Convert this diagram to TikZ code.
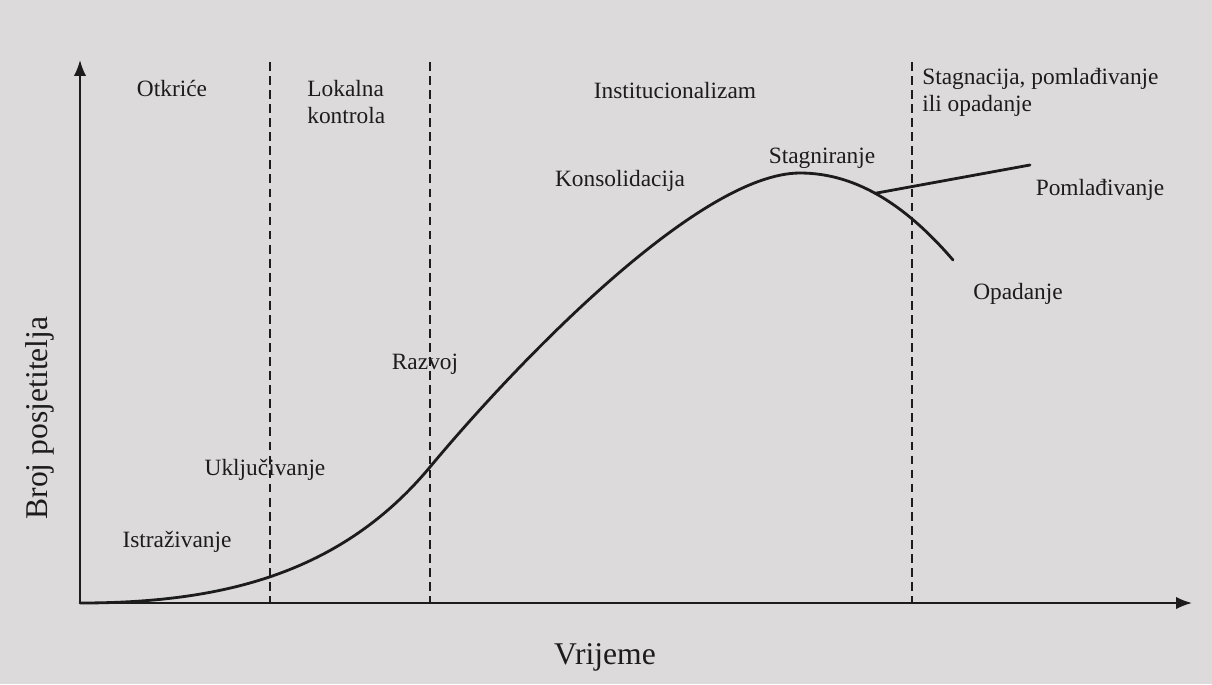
\documentclass[tikz,border=0pt]{standalone}
\usepackage{fontspec}
\setmainfont{Liberation Serif}
\usetikzlibrary{arrows.meta}
\definecolor{paper}{RGB}{221,218,219}
\definecolor{ink}{RGB}{28,28,28}
\begin{document}
\begin{tikzpicture}[x=0.02cm, y=-0.02cm,
                every node/.style = {text=ink, inner sep=1pt},
                phase/.style = {font=\fontsize{13.3}{15.6}\selectfont, align=left},
                stage/.style = {font=\fontsize{13.3}{15.6}\selectfont},
                axislabel/.style = {font=\fontsize{18}{21}\selectfont},
                axisline/.style = {draw=ink, line width=1.1pt, -{Latex[length=9pt, width=7pt]}},
                divider/.style = {draw=ink, line width=1pt, dash pattern=on 5pt off 3pt},
                lifecurve/.style = {draw=ink, line width=1.6pt, line cap=round}
    ]
    \path[fill=paper] (0,0) rectangle (1212,684);
    % axes
    \coordinate (origin) at (80,603);
    \coordinate (ytip) at (80,60);
    \coordinate (xtip) at (1192,603);
    \draw[axisline] (origin) -- (ytip);
    \draw[axisline] (origin) -- (xtip);
    % phase borders
    \foreach \name/\xpos in {first/270, second/430, third/912} {
        \coordinate (\name top) at (\xpos,62);
        \coordinate (\name bottom) at (\xpos,603);
        \draw[divider] (\name top) -- (\name bottom);
    }
    % phases
    \node[phase] (otkrice) at (172,88) {Otkriće};
    \node[phase, anchor=north west, inner sep=0pt] (lokalna) at (307,80) {Lokalna\\kontrola};
    \node[phase] (institucionalizam) at (675,90) {Institucionalizam};
    \node[phase, anchor=north west, inner sep=0pt] (stagnacija) at (922,68) {Stagnacija, pomlađivanje\\ili opadanje};
    % life cycle curve
    \coordinate (peak) at (800,173);
    \draw[lifecurve] (origin) .. controls (220,603) and (340,575) .. (430,467)
        .. controls (520,359) and (700,173) .. (peak)
        .. controls (860,173) and (910,210) .. (953,260) coordinate[pos=0.45] (fork);
    \coordinate (rejuvenation) at (1030,165);
    \draw[lifecurve] (fork) -- (rejuvenation);
    % stages
    \node[stage] (istrazivanje) at (177,542) {Istraživanje};
    \node[stage] (ukljucivanje) at (265,470) {Uključivanje};
    \node[stage] (razvoj) at (425,364) {Razvoj};
    \node[stage] (konsolidacija) at (620,181) {Konsolidacija};
    \node[stage] (stagniranje) at (822,158) {Stagniranje};
    \node[stage] (pomladivanje) at (1100,190) {Pomlađivanje};
    \node[stage] (opadanje) at (1018,294) {Opadanje};
    % axis labels
    \node[axislabel, rotate=90] (broj) at (40,418) {Broj posjetitelja};
    \node[axislabel] (vrijeme) at (605,657) {Vrijeme};
\end{tikzpicture}
\end{document}
